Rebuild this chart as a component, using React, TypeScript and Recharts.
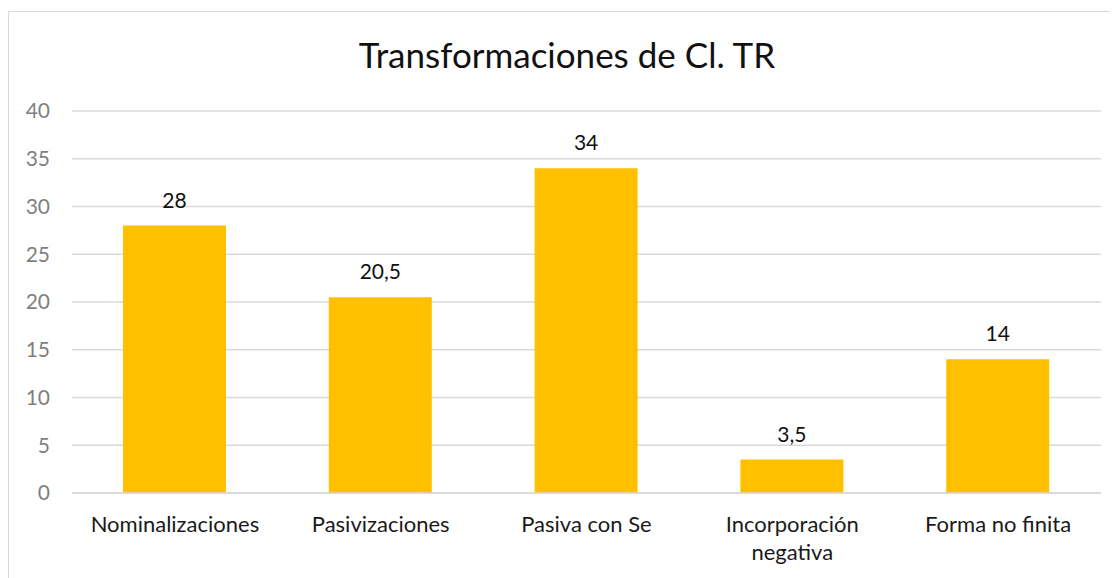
import { BarChart, Bar, XAxis, YAxis, CartesianGrid } from 'recharts';

const categories = ['Nominalizaciones', 'Pasivizaciones', 'Pasiva con Se', 'Incorporación negativa', 'Forma no finita'];
const values = [28, 20.5, 34, 3.5, 14];
const yTicks = [0, 5, 10, 15, 20, 25, 30, 35, 40];

const data = categories.map((name, i) => ({ name, value: values[i] }));

const font = 'Lato, "Open Sans", sans-serif';

// long labels wrap onto two lines, like the original
function splitLabel(label: string): string[] {
  if (label.length <= 18 || label.indexOf(' ') < 0) return [label];
  const words = label.split(' ');
  const half = Math.ceil(words.length / 2);
  return [words.slice(0, half).join(' '), words.slice(half).join(' ')];
}

function CategoryTick(props: any) {
  const { x, y, payload } = props;
  const lines = splitLabel(payload.value);
  return (
    <text x={x} y={y + 31} textAnchor="middle" fontSize={22} fill="#1a1a1a" fontFamily={font}>
      {lines.map((line, i) => (
        <tspan key={i} x={x} dy={i === 0 ? 0 : 28}>
          {line}
        </tspan>
      ))}
    </text>
  );
}

function ValueLabel(props: any) {
  const { x, y, width, value } = props;
  return (
    <text
      x={x + width / 2}
      y={y - 18}
      textAnchor="middle"
      fontSize={21}
      fill="#111"
      fontFamily={font}
    >
      {String(value).replace('.', ',')}
    </text>
  );
}

export default function App() {
  return (
    <div style={{ position: 'relative', width: 1110, height: 570, overflow: 'hidden', background: '#fff' }}>
      <div
        style={{
          position: 'absolute',
          left: 0,
          top: 3,
          width: 1130,
          height: 620,
          border: '1px solid #d9d9d9',
          boxSizing: 'border-box',
        }}
      />
      <div
        style={{
          position: 'absolute',
          left: 0,
          top: 25,
          width: 1118,
          textAlign: 'center',
          fontFamily: font,
          fontSize: 35,
          color: '#111',
        }}
      >
        Transformaciones de Cl. TR
      </div>
      <div style={{ position: 'absolute', left: 0, top: 0 }}>
        <BarChart
          width={1110}
          height={570}
          data={data}
          margin={{ top: 103, right: 17, left: 24, bottom: 0 }}
        >
          <CartesianGrid vertical={false} stroke="#d9d9d9" strokeWidth={1.5} />
          <XAxis
            dataKey="name"
            tick={<CategoryTick />}
            tickLine={false}
            axisLine={{ stroke: '#d9d9d9', strokeWidth: 1.5 }}
            interval={0}
            height={85}
          />
          <YAxis
            width={40}
            domain={[0, 40]}
            ticks={yTicks}
            tickLine={false}
            axisLine={false}
            tick={{ fontSize: 21, fill: '#7f7f7f', fontFamily: font }}
            tickMargin={16}
          />
          <Bar
            dataKey="value"
            fill="#FFC000"
            barSize={103}
            isAnimationActive={false}
            label={<ValueLabel />}
          />
        </BarChart>
      </div>
    </div>
  );
}
